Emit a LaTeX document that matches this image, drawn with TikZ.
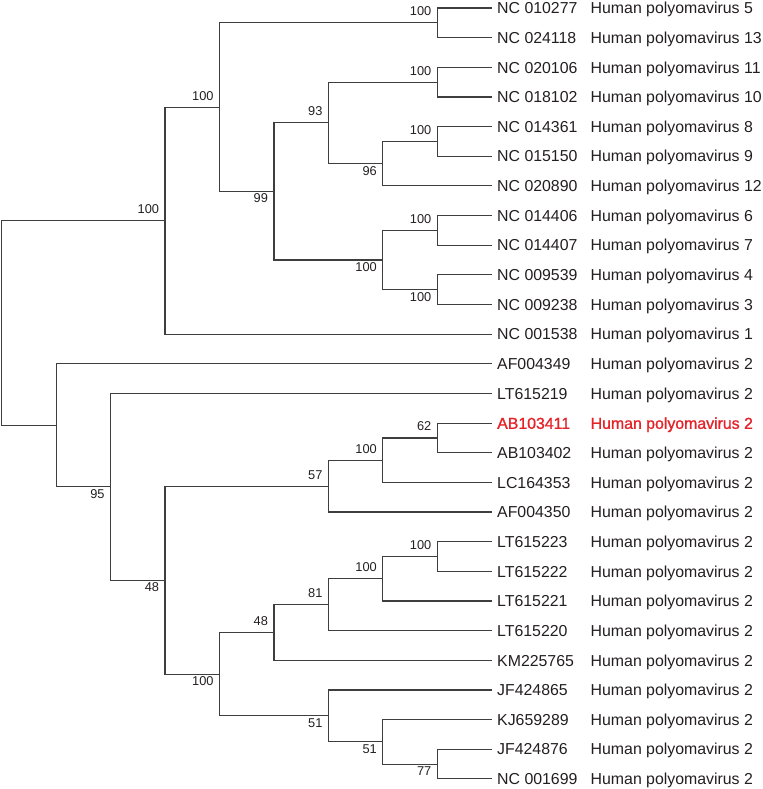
\documentclass[tikz,border=0pt]{standalone}
\usepackage{fontspec}
\setmainfont{Liberation Sans}
\newfontfamily\heavyface[FakeBold=1.2]{Liberation Sans}
\usetikzlibrary{positioning}
\definecolor{TreeGray}{RGB}{62,62,62}
\definecolor{TipText}{RGB}{35,31,32}
\definecolor{MarkRed}{RGB}{228,34,40}
\def\dx{54.45}
\tikzset{
  branch/.style={draw=TreeGray, line width=0.85pt},
  leaflab/.style={anchor=base west, inner sep=0pt, text=TipText, font=\fontsize{11.9}{14}\selectfont},
  hileaf/.style={leaflab, text=MarkRed, font=\fontsize{11.9}{14}\heavyface},
  bsup/.style={anchor=south east, inner sep=0pt, xshift=-4.3pt, yshift=5pt,
    text=TipText, font=\fontsize{9.6}{11}\selectfont},
  bsdown/.style={bsup, anchor=north east, yshift=-6.7pt},
}

\begin{document}
\begin{tikzpicture}[x=0.75pt, y=-0.75pt]
  \useasboundingbox (0,0) rectangle (763,789);

  % tips and their labels
  \foreach \acc/\num/\st [count=\i] in {NC 010277/5/leaflab, NC 024118/13/leaflab,
      NC 020106/11/leaflab, NC 018102/10/leaflab, NC 014361/8/leaflab, NC 015150/9/leaflab,
      NC 020890/12/leaflab, NC 014406/6/leaflab, NC 014407/7/leaflab, NC 009539/4/leaflab,
      NC 009238/3/leaflab, NC 001538/1/leaflab, AF004349/2/leaflab, LT615219/2/leaflab,
      AB103411/2/hileaf, AB103402/2/leaflab, LC164353/2/leaflab, AF004350/2/leaflab,
      LT615223/2/leaflab, LT615222/2/leaflab, LT615221/2/leaflab, LT615220/2/leaflab,
      KM225765/2/leaflab, JF424865/2/leaflab, KJ659289/2/leaflab, JF424876/2/leaflab,
      NC 001699/2/leaflab} {
    \coordinate (t\i) at ({1.7+9*\dx}, {8+(\i-1)*29.65});
    \node[\st] (a\i) at ([xshift=3.9pt, yshift=-4.3pt]t\i) {\acc};
    \node[\st] (s\i) at ([xshift=70.1pt]a\i.base west) {Human polyomavirus \num};
  }

  % internal nodes
  \coordinate (root) at ({1.7+0*\dx}, 322.98);
  \coordinate (nA) at ({1.7+3*\dx}, 220.65);
  \coordinate (nB) at ({1.7+4*\dx}, 107.14);
  \coordinate (nC) at ({1.7+8*\dx}, 22.83);
  \coordinate (nD) at ({1.7+5*\dx}, 191.46);
  \coordinate (nE) at ({1.7+6*\dx}, 122.89);
  \coordinate (nF) at ({1.7+8*\dx}, 82.13);
  \coordinate (nG) at ({1.7+7*\dx}, 163.66);
  \coordinate (nH) at ({1.7+8*\dx}, 141.43);
  \coordinate (nI) at ({1.7+7*\dx}, 260.03);
  \coordinate (nJ) at ({1.7+8*\dx}, 230.38);
  \coordinate (nK) at ({1.7+8*\dx}, 289.68);
  \coordinate (nL) at ({1.7+1*\dx}, 425.3);
  \coordinate (nM) at ({1.7+2*\dx}, 486.8);
  \coordinate (nN) at ({1.7+3*\dx}, 580.15);
  \coordinate (nO) at ({1.7+6*\dx}, 486.1);
  \coordinate (nP) at ({1.7+7*\dx}, 460.16);
  \coordinate (nQ) at ({1.7+8*\dx}, 437.93);
  \coordinate (nR) at ({1.7+4*\dx}, 674.2);
  \coordinate (nS) at ({1.7+5*\dx}, 632.5);
  \coordinate (nT) at ({1.7+6*\dx}, 604.71);
  \coordinate (nU) at ({1.7+7*\dx}, 578.76);
  \coordinate (nV) at ({1.7+8*\dx}, 556.53);
  \coordinate (nW) at ({1.7+6*\dx}, 715.9);
  \coordinate (nX) at ({1.7+7*\dx}, 741.84);
  \coordinate (nY) at ({1.7+8*\dx}, 764.08);

  % branches
  \foreach \p/\c in {root/nA, root/nL, nA/nB, nA/t12, nB/nC, nB/nD, nC/t1, nC/t2,
      nD/nE, nD/nI, nE/nF, nE/nG, nF/t3, nF/t4, nG/nH, nG/t7, nH/t5, nH/t6,
      nI/nJ, nI/nK, nJ/t8, nJ/t9, nK/t10, nK/t11,
      nL/t13, nL/nM, nM/t14, nM/nN, nN/nO, nN/nR, nO/nP, nO/t18, nP/nQ, nP/t17,
      nQ/t15, nQ/t16, nR/nS, nR/nW, nS/nT, nS/t23, nT/nU, nT/t22, nU/nV, nU/t21,
      nV/t19, nV/t20, nW/t24, nW/nX, nX/t25, nX/nY, nY/t26, nY/t27}
    \draw[branch] (\p) |- (\c);

  % bootstrap values
  \foreach \n/\v/\s in {nA/100/bsup, nB/100/bsup, nC/100/bsup, nD/99/bsdown,
      nE/93/bsup, nF/100/bsup, nG/96/bsdown, nH/100/bsup, nI/100/bsdown,
      nJ/100/bsup, nK/100/bsdown, nM/95/bsdown, nN/48/bsdown, nO/57/bsup,
      nP/100/bsup, nQ/62/bsup, nR/100/bsdown, nS/48/bsup, nT/81/bsup,
      nU/100/bsup, nV/100/bsup, nW/51/bsdown, nX/51/bsdown, nY/77/bsdown}
    \node[\s] (b\n) at (\n) {\v};
\end{tikzpicture}
\end{document}
